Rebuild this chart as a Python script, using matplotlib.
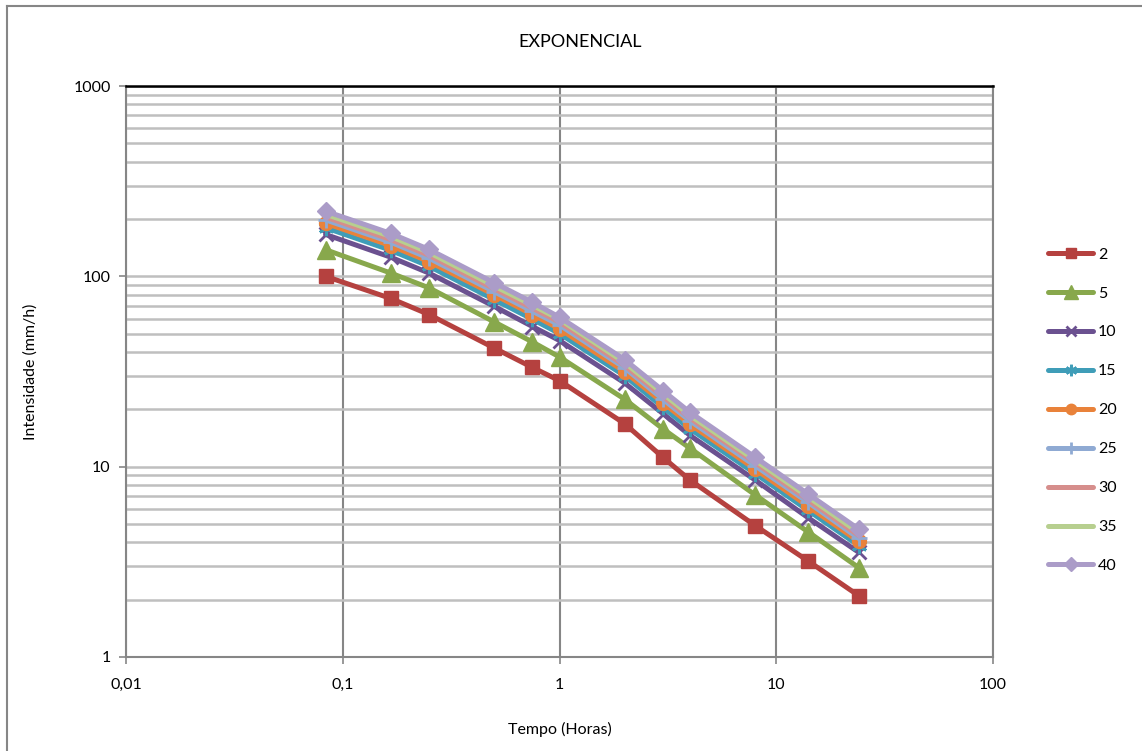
import matplotlib.pyplot as plt
from matplotlib.lines import Line2D
from matplotlib.ticker import FixedLocator, NullFormatter, NullLocator

plt.rcParams['font.family'] = ['Lato', 'DejaVu Sans']

# tempo em horas (5, 10, 15, 30, 45 min, 1, 2, 3, 4, 8, 14, 24 h)
tempo = [5 / 60, 10 / 60, 15 / 60, 30 / 60, 45 / 60, 1, 2, 3, 4, 8, 14, 24]

tr_labels = ["2", "5", "10", "15", "20", "25", "30", "35", "40"]

i_2 = [100, 76.5, 63, 42, 33.2, 28.3, 16.8, 11.2, 8.5, 4.9, 3.2, 2.1]
i_5 = [138, 104, 87, 57.6, 45.2, 37.7, 22.6, 15.8, 12.5, 7.1, 4.55, 2.95]
i_10 = [166, 126, 104, 69.5, 54.5, 46, 27.5, 19, 14.6, 8.5, 5.4, 3.55]
i_15 = [180, 137, 113, 75.5, 59.5, 50, 30, 20.5, 15.8, 9.2, 5.9, 3.85]
i_20 = [190, 145, 119.5, 80, 63, 53, 31.5, 21.7, 16.7, 9.7, 6.2, 4.05]
i_25 = [198, 151, 124.5, 83, 65.5, 55.5, 33, 22.6, 17.4, 10.1, 6.5, 4.2]
i_30 = [205, 156, 129, 86, 68, 57.5, 34, 23.4, 18, 10.5, 6.7, 4.35]
i_35 = [212, 162, 133.5, 89, 70.5, 59.5, 35.2, 24.2, 18.6, 10.8, 6.95, 4.5]
i_40 = [220, 168, 138.5, 92.5, 73, 61, 36.5, 25.1, 19.3, 11.2, 7.2, 4.7]

series = [i_2, i_5, i_10, i_15, i_20, i_25, i_30, i_35, i_40]

colors = ["#B5413F", "#88A84C", "#6B5190", "#3F9DB8", "#E9823A",
          "#8FAAD3", "#D68E8C", "#B7CF8F", "#AB9CC8"]
markers = ["s", "^", "x", (6, 2, 0), "o", "+", None, None, "D"]
msizes = [10, 13, 10, 11, 10, 11, 0, 0, 9]

fig = plt.figure(figsize=(11.42, 7.51), dpi=100)
ax = fig.add_axes([126 / 1142, 1 - 657 / 751, (993 - 126) / 1142, (657 - 86) / 751])

for vals, lab, c, m, ms in zip(series, tr_labels, colors, markers, msizes):
    ax.plot(tempo, vals, color=c, lw=3.6, marker=m, markersize=ms,
            markeredgewidth=2 if m in ("x", "+", (6, 2, 0)) else 1,
            markeredgecolor=c, markerfacecolor=c, label=lab, solid_capstyle="round")

ax.set_xscale("log")
ax.set_yscale("log")
ax.set_xlim(0.01, 100)
ax.set_ylim(1, 1000)

ax.xaxis.set_major_locator(FixedLocator([0.01, 0.1, 1, 10, 100]))
ax.set_xticklabels(["0,01", "0,1", "1", "10", "100"])
ax.xaxis.set_minor_locator(NullLocator())
ax.yaxis.set_major_locator(FixedLocator([1, 10, 100, 1000]))
ax.set_yticklabels(["1", "10", "100", "1000"])
yminor = [k * 10 ** d for d in range(0, 3) for k in range(2, 10)]
ax.yaxis.set_minor_locator(FixedLocator(yminor))
ax.yaxis.set_minor_formatter(NullFormatter())

ax.grid(True, axis="x", which="major", color="#868686", lw=1.5, zorder=0)
ax.grid(True, axis="y", which="both", color="#BFBFBF", lw=1.8, zorder=0)
ax.set_axisbelow(True)

ax.tick_params(axis="both", which="major", length=5, width=1.2, color="#868686",
               labelsize=11.5, pad=6)
ax.tick_params(axis="y", which="minor", length=0)
ax.tick_params(axis="x", pad=10)

ax.spines["top"].set_color("#000000")
ax.spines["top"].set_linewidth(1.8)
for s in ["left", "bottom", "right"]:
    ax.spines[s].set_color("#868686")
    ax.spines[s].set_linewidth(1.5)

ax.set_xlabel("Tempo (Horas)", fontsize=11.5, labelpad=22)
ax.set_ylabel("Intensidade (mm/h)", fontsize=11.5, labelpad=26)
fig.text(580 / 1142, 1 - 42 / 751, "EXPONENCIAL", fontsize=13, ha="center", va="center")

handles = []
for lab, c, m, ms in zip(tr_labels, colors, markers, msizes):
    handles.append(Line2D([], [], color=c, lw=3.6, marker=m, markersize=ms * 0.75,
                          markeredgewidth=2 if m in ("x", "+", (6, 2, 0)) else 1,
                          markeredgecolor=c, markerfacecolor=c, solid_capstyle="round"))
fig.legend(handles, tr_labels, loc="upper left", bbox_to_anchor=(1042 / 1142, 1 - 241 / 751),
           frameon=False, fontsize=11.5, handlelength=2.8, handletextpad=0.3,
           labelspacing=1.55, borderaxespad=0)

# borda externa
fig.add_artist(Line2D([7 / 1142, 7 / 1142], [0, 1 - 6 / 751], color="#868686", lw=1.5))
fig.add_artist(Line2D([7 / 1142, 1], [1 - 6 / 751, 1 - 6 / 751], color="#868686", lw=1.5))

fig.savefig("out.png", dpi=100)
